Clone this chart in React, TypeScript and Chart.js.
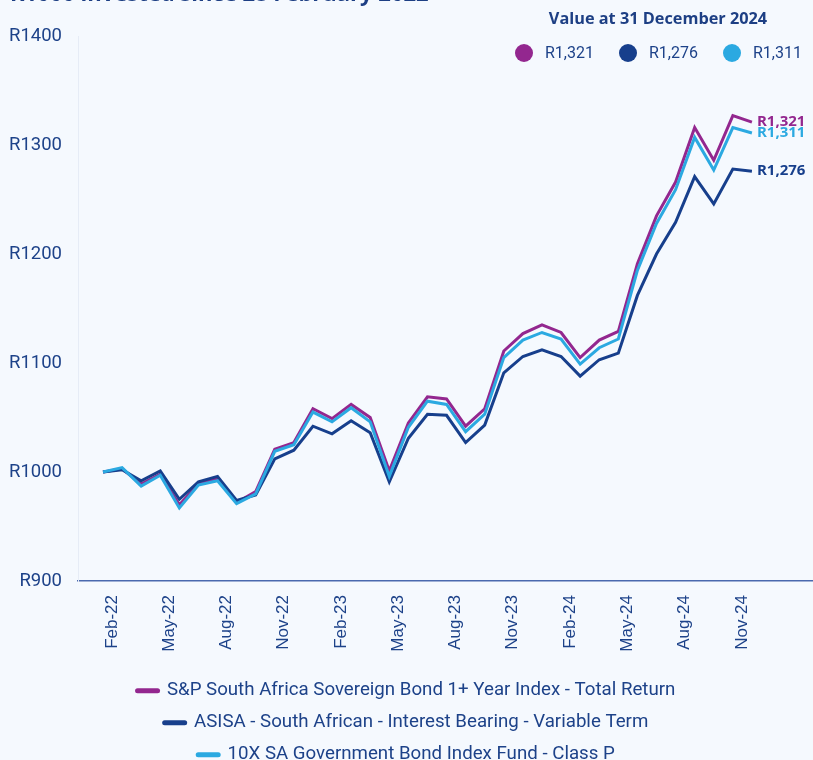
import React, { useEffect, useRef } from 'react';
import { Chart, registerables } from 'chart.js';

Chart.register(...registerables);

// ---------- data ----------
const months = [
  'Feb-22', 'Mar-22', 'Apr-22', 'May-22', 'Jun-22', 'Jul-22', 'Aug-22', 'Sep-22', 'Oct-22', 'Nov-22', 'Dec-22',
  'Jan-23', 'Feb-23', 'Mar-23', 'Apr-23', 'May-23', 'Jun-23', 'Jul-23', 'Aug-23', 'Sep-23', 'Oct-23', 'Nov-23', 'Dec-23',
  'Jan-24', 'Feb-24', 'Mar-24', 'Apr-24', 'May-24', 'Jun-24', 'Jul-24', 'Aug-24', 'Sep-24', 'Oct-24', 'Nov-24', 'Dec-24',
];

const spIndex = [
  1000, 1003, 989, 998, 970, 989, 994, 972, 982, 1021, 1027,
  1058, 1049, 1062, 1050, 1001, 1045, 1069, 1067, 1042, 1058, 1111, 1127,
  1135, 1128, 1105, 1121, 1129, 1191, 1235, 1266, 1316, 1286, 1327, 1321,
];

const asisa = [
  1000, 1002, 992, 1001, 975, 991, 996, 974, 979, 1012, 1020,
  1042, 1035, 1047, 1036, 991, 1031, 1053, 1052, 1027, 1043, 1091, 1106,
  1112, 1106, 1088, 1103, 1109, 1162, 1200, 1229, 1271, 1246, 1278, 1276,
];

const fund10x = [
  1000, 1004, 987, 997, 967, 988, 992, 971, 980, 1019, 1025,
  1055, 1046, 1059, 1046, 996, 1041, 1065, 1062, 1037, 1053, 1105, 1121,
  1128, 1122, 1099, 1114, 1122, 1185, 1228, 1259, 1307, 1277, 1316, 1311,
];

const seriesNames = [
  'S&P South Africa Sovereign Bond 1+ Year Index - Total Return',
  'ASISA - South African - Interest Bearing - Variable Term',
  '10X SA Government Bond Index Fund - Class P',
];

const xTickIndices = [0, 3, 6, 9, 12, 15, 18, 21, 24, 27, 30, 33];
const yTickValues = [900, 1000, 1100, 1200, 1300, 1400];

const titleText = 'R1000 invested since 28 February 2022';
const valueTitle = 'Value at 31 December 2024';

// ---------- styles ----------
const PURPLE = '#93278F';
const NAVY = '#173F8C';
const CYAN = '#2BA9E1';
const TEXT = '#1D4289';
const BG = '#F5F9FE';

const fmt = (v: number) => 'R' + v.toLocaleString('en-US');

const endLabels = {
  id: 'endLabels',
  afterDatasetsDraw(chart: any) {
    const ctx = chart.ctx;
    ctx.save();
    ctx.font = 'bold 15px "Open Sans"';
    ctx.textBaseline = 'middle';
    ctx.textAlign = 'left';
    chart.data.datasets.forEach((ds: any, i: number) => {
      const meta = chart.getDatasetMeta(i);
      const pt = meta.data[meta.data.length - 1];
      const v = ds.data[ds.data.length - 1].y;
      ctx.fillStyle = ds.borderColor;
      ctx.fillText(fmt(v), pt.x + 5, pt.y);
    });
    ctx.restore();
  },
};

export default function App() {
  const ref = useRef<HTMLCanvasElement | null>(null);

  useEffect(() => {
    if (!ref.current) return;
    const series = [spIndex, asisa, fund10x];
    const colors = [PURPLE, NAVY, CYAN];
    const orders = [3, 2, 1];
    const chart = new Chart(ref.current, {
      type: 'line',
      data: {
        datasets: series.map((s, i) => ({
          label: seriesNames[i],
          data: s.map((v, j) => ({ x: j, y: v })),
          borderColor: colors[i],
          backgroundColor: colors[i],
          borderWidth: 3,
          pointRadius: 0,
          tension: 0,
          order: orders[i],
        })),
      },
      options: {
        animation: false,
        responsive: false,
        maintainAspectRatio: false,
        layout: { padding: { top: 36, left: 0, right: 0, bottom: 6 } },
        plugins: {
          tooltip: { enabled: false },
          legend: {
            position: 'bottom',
            labels: {
              usePointStyle: true,
              pointStyle: 'line',
              pointStyleWidth: 20,
              padding: 13.3,
              color: TEXT,
              font: { family: 'Roboto', size: 18.7 },
              sort: (a: any, b: any) => a.datasetIndex - b.datasetIndex,
              generateLabels: (c: any) =>
                Chart.defaults.plugins.legend.labels.generateLabels(c).map((l: any) => ({
                  ...l,
                  lineWidth: 5,
                  lineCap: 'round',
                  pointStyle: 'line',
                })),
            },
          },
        },
        scales: {
          x: {
            type: 'linear',
            min: -1.31,
            max: 37.2,
            afterBuildTicks: (scale: any) => {
              scale.ticks = xTickIndices.map((v) => ({ value: v }));
            },
            afterFit: (scale: any) => {
              scale.height = 87;
            },
            grid: { display: false, drawTicks: false },
            border: { display: true, color: '#4A69AE', width: 1.5 },
            ticks: {
              autoSkip: false,
              minRotation: 90,
              maxRotation: 90,
              labelOffset: 9,
              padding: 14,
              color: TEXT,
              font: { family: '"Liberation Sans"', size: 17 },
              callback: (v: any) => months[v as number] ?? '',
            },
          },
          y: {
            type: 'linear',
            min: 900,
            max: 1400,
            afterBuildTicks: (scale: any) => {
              scale.ticks = yTickValues.map((v) => ({ value: v }));
            },
            afterFit: (scale: any) => {
              scale.width = 78;
            },
            grid: { display: false, drawTicks: false },
            border: { display: true, color: '#E6ECF6', width: 1 },
            ticks: {
              padding: 16,
              color: TEXT,
              font: { family: 'Roboto', size: 18.5 },
              callback: (v: any) => 'R' + v,
            },
          },
        },
      },
      plugins: [endLabels],
    } as any);
    return () => chart.destroy();
  }, []);

  const dotItems = [
    { color: PURPLE, value: spIndex[spIndex.length - 1], x: 524 },
    { color: NAVY, value: asisa[asisa.length - 1], x: 628 },
    { color: CYAN, value: fund10x[fund10x.length - 1], x: 732 },
  ];

  return (
    <div
      style={{
        position: 'absolute',
        left: 0,
        top: 0,
        width: 813,
        height: 780,
        background: BG,
        overflow: 'hidden',
      }}
    >
      <canvas ref={ref} width={813} height={780} style={{ position: 'absolute', left: 0, top: 0 }} />
      <div
        style={{
          position: 'absolute',
          left: 10,
          top: -19,
          font: 'bold 22px "Open Sans"',
          lineHeight: '22px',
          color: '#1D3F84',
          whiteSpace: 'nowrap',
        }}
      >
        {titleText}
      </div>
      <div
        style={{
          position: 'absolute',
          left: 508,
          top: 8,
          width: 300,
          textAlign: 'center',
          font: 'bold 16.3px "Open Sans"',
          lineHeight: '20px',
          color: '#1D3F84',
        }}
      >
        {valueTitle}
      </div>
      {dotItems.map((d, i) => (
        <React.Fragment key={i}>
          <div
            style={{
              position: 'absolute',
              left: d.x - 9,
              top: 44,
              width: 18,
              height: 18,
              borderRadius: 9,
              background: d.color,
            }}
          />
          <div
            style={{
              position: 'absolute',
              left: d.x + 21,
              top: 43,
              font: '16px Roboto',
              lineHeight: '20px',
              color: TEXT,
              whiteSpace: 'nowrap',
            }}
          >
            {fmt(d.value)}
          </div>
        </React.Fragment>
      ))}
    </div>
  );
}
